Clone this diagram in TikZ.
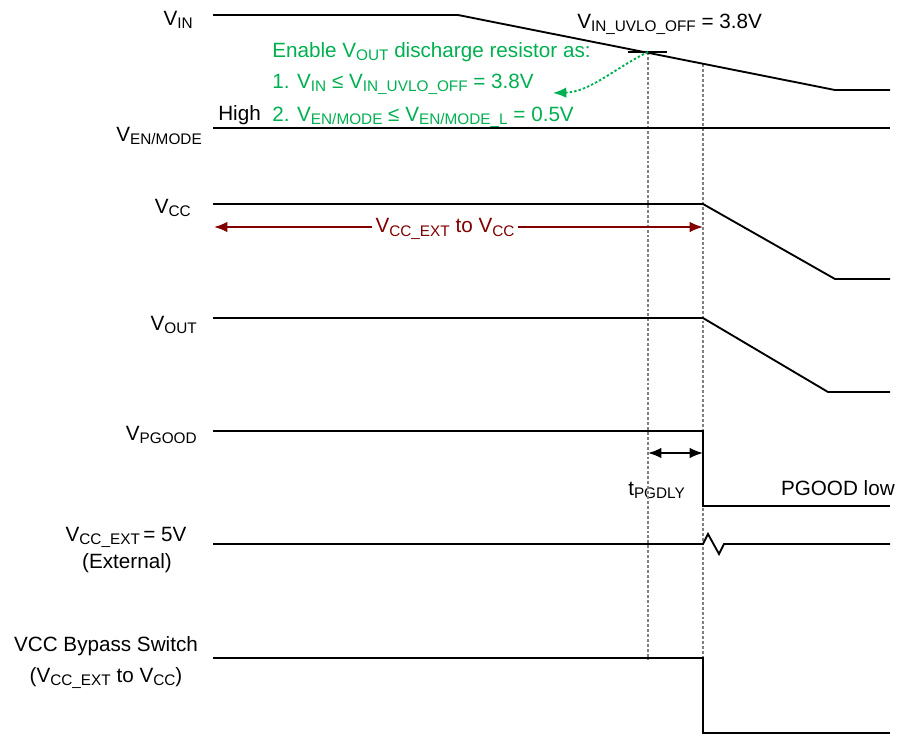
\documentclass[tikz,border=0pt]{standalone}
\usepackage{fontspec}
\setmainfont{Liberation Sans}
\usetikzlibrary{arrows.meta}

\definecolor{tigreen}{RGB}{0,176,80}
\definecolor{tired}{RGB}{128,0,0}
\newcommand{\lo}[1]{\raisebox{-2.6pt}{\fontsize{11.5}{12}\selectfont #1}}

\tikzset{
    lbl/.style={inner sep=0pt, font=\fontsize{15.5}{17}\selectfont},
    wave/.style={line width=1.4pt, line join=miter},
    guide/.style={gray, line width=0.9pt, dash pattern=on 2.2pt off 1.5pt},
    tip/.style={-{Latex[length=10pt, width=8pt]}},
    tips/.style={{Latex[length=10pt, width=8pt]}-{Latex[length=10pt, width=8pt]}},
}

\begin{document}
\begin{tikzpicture}[x=0.75pt, y=-0.75pt]
    \useasboundingbox (0,0) rectangle (900,736);

    % Nodes
    \node[lbl, anchor=base east] (vin) at (193,25) {V\lo{IN}};
    \node[lbl, anchor=base east] (ven) at (202,141) {V\lo{EN/MODE}};
    \node[lbl, anchor=base west] (high) at (218,120) {High};
    \node[lbl, anchor=base east] (vcc) at (191,213) {V\lo{CC}};
    \node[lbl, anchor=base east] (vout) at (197,330) {V\lo{OUT}};
    \node[lbl, anchor=base east] (vpg) at (197,440) {V\lo{PGOOD}};
    \node[lbl, anchor=base] (vext) at (126,541) {V\lo{CC\_EXT}\,= 5V};
    \node[lbl, anchor=base] (vextb) at (127,568) {(External)};
    \node[lbl, anchor=base] (byp) at (106,651) {VCC Bypass Switch};
    \node[lbl, anchor=base] (bypb) at (106,682) {(V\lo{CC\_EXT} to V\lo{CC})};
    \node[lbl, anchor=base west] (uvlo) at (577,28) {V\lo{IN\_UVLO\_OFF} = 3.8V};
    \node[lbl, anchor=base west, tigreen] (en0) at (272,57) {Enable V\lo{OUT} discharge resistor as:};
    \node[lbl, anchor=base west, tigreen] (en1) at (272,88) {1. V\lo{IN} ≤ V\lo{IN\_UVLO\_OFF} = 3.8V};
    \node[lbl, anchor=base west, tigreen] (en2) at (272,121) {2. V\lo{EN/MODE} ≤ V\lo{EN/MODE\_L} = 0.5V};
    \node[lbl, anchor=base west] (tpg) at (628,495) {t\lo{PGDLY}};
    \node[lbl, anchor=base east] (pglow) at (895,495) {PGOOD low};

    \coordinate (cross) at (648,52);
    \coordinate (greentip) at (553,93);
    \coordinate (extL) at (214,227);
    \coordinate (extR) at (703,227);
    \coordinate (dlyL) at (648,453);
    \coordinate (dlyR) at (703,453);

    % Guides
    \draw[guide] (648,52) -- (648,660);
    \draw[guide] (703,64) -- (703,658);

    % Waveforms
    \draw[wave] (213,15) -- (458,15) -- (835,90) -- (890,90);
    \draw[wave] (628,52) -- (667,52);
    \draw[wave] (213,128) -- (890,128);
    \draw[wave] (213,204) -- (703,204) -- (835,279) -- (890,279);
    \draw[wave] (213,318) -- (703,318) -- (828,392) -- (890,392);
    \draw[wave] (213,431) -- (703,431) -- (703,506) -- (890,506);
    \draw[wave] (213,544) -- (703,544) -- (708,534) -- (719,554) -- (724,544) -- (890,544);
    \draw[wave] (213,658) -- (703,658) -- (703,733) -- (890,733);

    % Arrows
    \draw[tigreen, line width=1.4pt, dash pattern=on 1.8pt off 1.6pt, tip]
        (cross) .. controls (615,68) and (590,92) .. (greentip);
    \draw[tired, line width=1.5pt, tips] (extL) -- (extR);
    \node[lbl, fill=white, inner xsep=3pt, inner ysep=2pt, text=tired] (extlbl) at (445,229) {V\lo{CC\_EXT} to V\lo{CC}};
    \draw[line width=1.5pt, tips] (dlyL) -- (dlyR);

\end{tikzpicture}
\end{document}
